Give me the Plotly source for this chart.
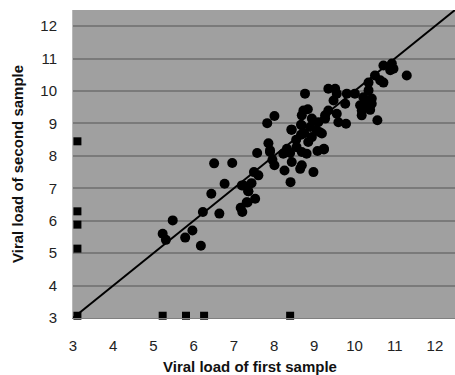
import plotly.graph_objects as go

# Paired samples (first, second) - circles
first = [6.51, 6.96, 6.77, 6.44, 7.20, 7.36, 7.34, 7.17, 7.21, 6.23, 6.64, 5.48, 5.23, 5.31, 5.97, 5.79, 6.18,
         8.01, 7.83, 8.73, 8.84, 8.69, 8.94, 9.10, 8.90, 9.06, 9.19, 8.94, 8.85, 9.27, 9.35,
         8.67, 8.44, 8.67, 7.86, 7.58, 7.90, 8.32, 8.40, 8.23, 8.56, 8.69, 8.81, 9.08, 9.24,
         7.96, 8.01, 8.26, 8.44, 8.69, 8.65, 8.98, 8.41, 7.50, 7.61, 7.44, 7.24, 7.36, 7.53, 7.32,
         10.72, 10.93, 10.97, 10.89, 11.30, 10.51, 10.64, 10.72, 10.35, 10.35, 10.01, 9.81, 9.35, 9.52,
         9.56, 9.48, 9.77, 10.22, 10.43, 10.26, 10.43, 10.14, 10.18, 10.39, 10.18, 10.57, 9.56, 9.60,
         9.79, 9.27, 9.14, 9.24, 8.77, 8.43, 8.69, 7.90, 8.55, 8.75]
second = [7.77, 7.78, 7.14, 6.83, 7.09, 6.91, 6.56, 6.40, 6.27, 6.27, 6.22, 6.01, 5.60, 5.41, 5.70, 5.48, 5.23,
          9.23, 9.01, 9.40, 9.44, 9.25, 9.15, 9.04, 8.89, 8.79, 8.69, 8.58, 8.43, 9.25, 9.40,
          8.96, 8.81, 8.65, 8.39, 8.09, 8.17, 8.22, 8.09, 8.07, 8.27, 8.12, 8.07, 8.15, 8.20,
          7.88, 7.71, 7.55, 7.81, 7.71, 7.60, 7.50, 7.19, 7.50, 7.40, 7.16, 7.09, 6.91, 6.68, 6.57,
          10.79, 10.85, 10.69, 10.64, 10.48, 10.48, 10.33, 10.26, 10.26, 10.02, 9.92, 9.92, 10.07, 10.07,
          9.92, 9.71, 9.61, 9.81, 9.77, 9.61, 9.61, 9.56, 9.40, 9.42, 9.25, 9.10, 9.30, 9.04,
          8.99, 9.15, 8.73, 8.22, 9.92, 8.81, 8.94, 8.12, 8.50, 8.70]

# Samples below detection limit - squares
sq_first = [3.11, 3.11, 3.11, 3.11, 3.11, 5.23, 5.81, 6.26, 8.40]
sq_second = [8.45, 6.29, 5.88, 5.14, 3.07, 3.07, 3.07, 3.07, 3.07]

# Line of identity
line_x = [3, 12.5]
line_y = [3, 12.5]

ticks = [3, 4, 5, 6, 7, 8, 9, 10, 11, 12]

fig = go.Figure()
fig.add_trace(go.Scatter(x=line_x, y=line_y, mode="lines",
                         line=dict(color="black", width=2), hoverinfo="skip"))
fig.add_trace(go.Scatter(x=first, y=second, mode="markers",
                         marker=dict(symbol="circle", size=10, color="black", line=dict(width=0))))
fig.add_trace(go.Scatter(x=sq_first, y=sq_second, mode="markers", cliponaxis=False,
                         marker=dict(symbol="square", size=8, color="black", line=dict(width=0))))

fig.update_layout(
    width=455, height=375,
    margin=dict(l=73, r=0, t=10, b=57),
    paper_bgcolor="white", plot_bgcolor="#A0A0A0",
    showlegend=False,
    font=dict(family="Liberation Sans, Arial, sans-serif", size=14, color="#222"),
    xaxis=dict(range=[3, 12.5], tickvals=ticks, showgrid=False, zeroline=False,
               showline=True, linecolor="#808080", linewidth=1, ticks="",
               ticklabelstandoff=14, tickfont=dict(size=15)),
    yaxis=dict(range=[3, 12.5], tickvals=ticks, showgrid=True, gridcolor="#7A7A7A", gridwidth=1.5,
               zeroline=False, showline=True, linecolor="#B8B8B8", linewidth=1, ticks="",
               ticklabelstandoff=12, tickfont=dict(size=15)),
    annotations=[
        dict(text="<b>Viral load of first sample</b>", xref="paper", yref="paper",
             x=(250 - 73) / 382, y=-(366 - 318) / 308, xanchor="center", yanchor="middle",
             showarrow=False, font=dict(size=15, color="#111")),
        dict(text="<b>Viral load of second sample</b>", xref="paper", yref="paper",
             x=-(73 - 17) / 382, y=0.5, xanchor="center", yanchor="middle", textangle=-90,
             showarrow=False, font=dict(size=15, color="#111")),
    ],
)

fig.write_html("out.html")
